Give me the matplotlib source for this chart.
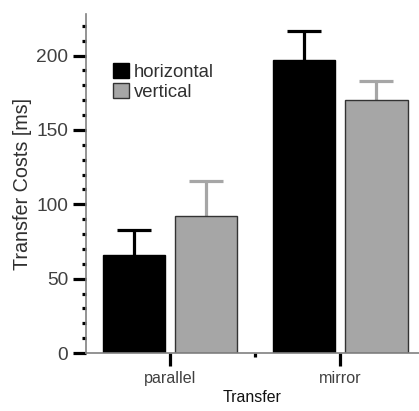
import numpy as np
import matplotlib.pyplot as plt
from matplotlib.ticker import MultipleLocator

plt.rcParams['font.family'] = ['Liberation Sans', 'DejaVu Sans']

groups = ['parallel', 'mirror']
series = ['horizontal', 'vertical']
horizontal = [66, 197]
vertical = [92, 170]
horizontal_err = [17, 19.5]
vertical_err = [24, 13]

bar_colors = ['#000000', '#a6a6a6']
edge_colors = ['#000000', '#333333']

fig = plt.figure(figsize=(4.19, 4.11), dpi=100)
ax = fig.add_axes([0.205, 0.141, 0.795, 0.825])

x = np.arange(len(groups))
w = 0.365
offs = [-0.21, 0.215]
vals = [horizontal, vertical]
errs = [horizontal_err, vertical_err]
for i in range(2):
    ax.bar(x + offs[i], vals[i], w, color=bar_colors[i], edgecolor=edge_colors[i],
           linewidth=1, label=series[i], zorder=2)
    eb = ax.errorbar(x + offs[i], vals[i], yerr=[np.zeros(2), errs[i]], fmt='none',
                     ecolor=bar_colors[i], elinewidth=2.3, capsize=12.2, capthick=2.3, zorder=1)
    # only keep the upper cap
    for cap in eb[1]:
        if np.allclose(cap.get_ydata(), vals[i]):
            cap.set_visible(False)

ax.set_xlim(-0.494, 1.465)
ax.set_ylim(0, 228)
ax.yaxis.set_major_locator(MultipleLocator(50))
ax.yaxis.set_minor_locator(MultipleLocator(10))
ax.set_xticks(x)
ax.set_xticklabels(groups)
ax.set_xticks([0.5], minor=True)

for s in ['top', 'right']:
    ax.spines[s].set_visible(False)
for s in ['left', 'bottom']:
    ax.spines[s].set_color('#808080')
    ax.spines[s].set_linewidth(1.2)

ax.tick_params(axis='y', which='major', length=9.4, width=2.3, color='black',
               labelsize=13.8, labelcolor='#404040', pad=3.5)
ax.tick_params(axis='y', which='minor', length=3, width=2.3, color='black')
ax.tick_params(axis='x', which='major', length=9, width=2.3, color='black',
               labelsize=11.6, labelcolor='#404040', pad=4)
ax.tick_params(axis='x', which='minor', length=3, width=2.3, color='black')

ax.set_ylabel('Transfer Costs [ms]', fontsize=14.2, color='#303030', labelpad=3)
ax.set_xlabel('Transfer', fontsize=11.4, color='#111111', labelpad=3)

leg = ax.legend(loc='upper left', bbox_to_anchor=(0.081, 0.855), frameon=False,
                fontsize=13.3, handlelength=0.87, handleheight=0.87, handletextpad=0.25,
                labelspacing=0.12, borderpad=0, borderaxespad=0, labelcolor='#303030')

fig.savefig('out.png', dpi=100)
